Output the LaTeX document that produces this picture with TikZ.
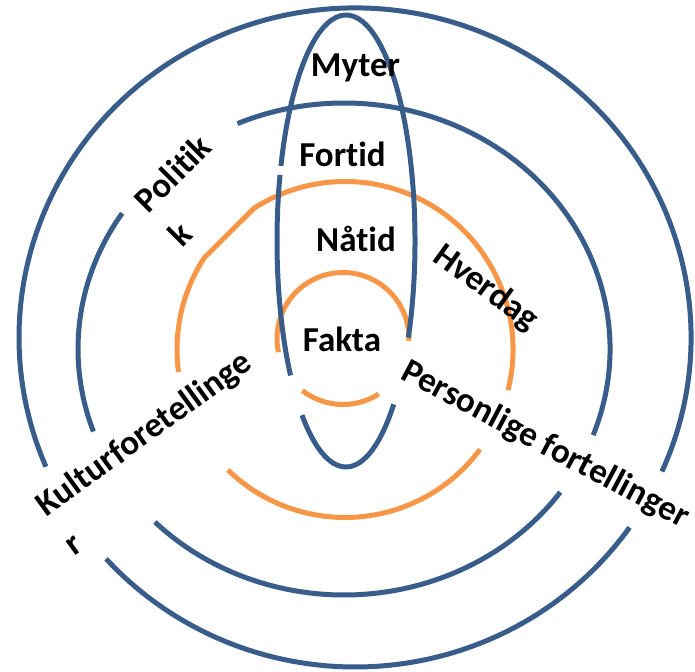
\documentclass[tikz,border=0pt]{standalone}
\usepackage{fontspec}
\setmainfont{Carlito}[Ligatures={NoCommon}]
\usetikzlibrary{calc}
\definecolor{ringblue}{HTML}{385D8A}
\definecolor{ringorange}{HTML}{F79646}
\tikzset{
  bluering/.style={draw=ringblue, line width=5pt},
  orangering/.style={draw=ringorange, line width=5pt},
  lbl/.style={inner sep=0pt, font=\fontsize{35}{48}\selectfont\bfseries, text=black}
}
\begin{document}
\begin{tikzpicture}[x=1pt,y=1pt]
\useasboundingbox (0,0) rectangle (695,671);
% centres
\coordinate (Co) at (355,333.5);
\coordinate (Cs) at (344,322);
\coordinate (Cb) at (345,321.5);
\coordinate (Cf) at (343,332.5);
\coordinate (Ce) at (346,430);
% orange circles
\draw[orangering] (Cb) ++(-14:168) arc[start angle=-14,end angle=122.8,radius=168]
   -- ($(Cb)+(146.9:168)$) arc[start angle=146.9,end angle=187.7,radius=168];
\draw[orangering] (Cb) ++(225.8:168) arc[start angle=225.8,end angle=323.5,radius=168];
\draw[orangering] (Cf) ++(-2:66) arc[start angle=-2,end angle=192,radius=66];
\draw[orangering] (Cf) ++(232:66) arc[start angle=232,end angle=302.7,radius=66];
% outer blue
\draw[bluering] (Co) ++(-24:336 and 329.5) arc[start angle=-24,end angle=203.1,x radius=336,y radius=329.5];
\draw[bluering] (Co) ++(222.2:336 and 329.5) arc[start angle=222.2,end angle=324.8,x radius=336,y radius=329.5];
% second blue
\draw[bluering] (Cs) ++(-20.5:266 and 246) arc[start angle=-20.5,end angle=113.6,x radius=266,y radius=246];
\draw[bluering] (Cs) ++(146.5:266 and 246) arc[start angle=146.5,end angle=199.6,x radius=266,y radius=246];
\draw[bluering] (Cs) ++(224.7:266 and 246) arc[start angle=224.7,end angle=324.4,x radius=266,y radius=246];
% vertical ellipse
\draw[bluering] (Ce) ++(-25.3:69 and 226) arc[start angle=-25.3,end angle=160.6,x radius=69,y radius=226];
\draw[bluering] (Ce) ++(163:69 and 226) arc[start angle=163,end angle=216.5,x radius=69,y radius=226];
\draw[bluering] (Ce) ++(230.4:69 and 226) arc[start angle=230.4,end angle=313.7,x radius=69,y radius=226];
% labels
\node[lbl, anchor=base] (myter) at (355.5,594) {Myter};
\node[lbl, anchor=base] (fortid) at (342.5,504) {Fortid};
\node[lbl, anchor=base] (natid) at (356,419) {Nåtid};
\node[lbl, anchor=base] (fakta) at (342,319) {Fakta};
\node[lbl, rotate=-36] (hverdag) at (486,383) {Hverdag};
\node[lbl, rotate=-28] (personlige) at (545,226) {Personlige fortellinger};
\node[lbl, rotate=45, align=left] (politikk) at (189.5,481) {Politik\\k};
\node[lbl, rotate=36, align=left] (kultur) at (157,219) {Kulturforetellinge\\r};
\end{tikzpicture}
\end{document}
